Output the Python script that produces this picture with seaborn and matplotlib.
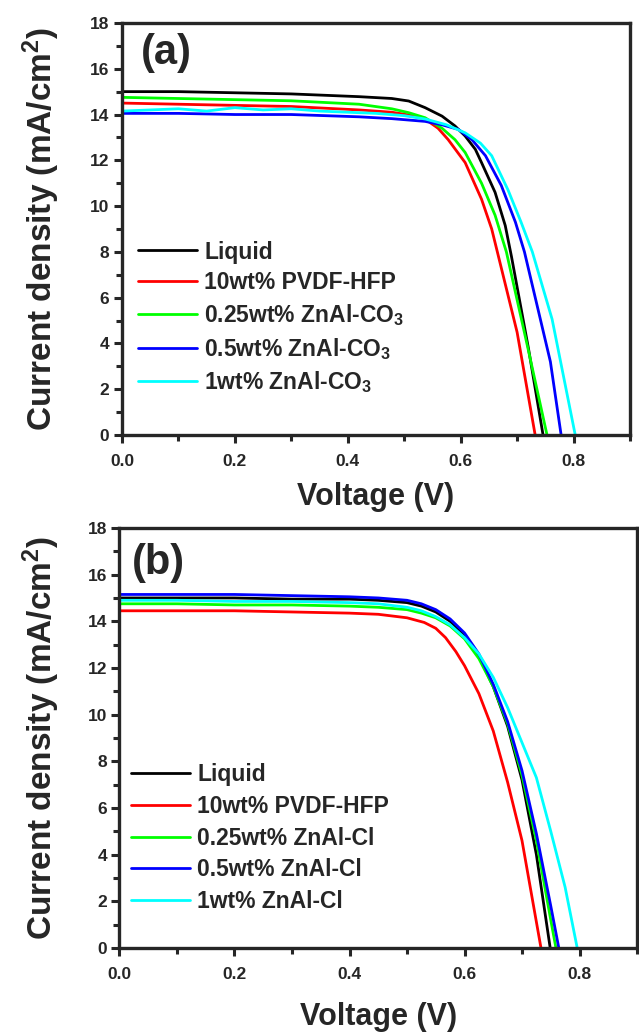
import numpy as np
import pandas as pd
import matplotlib
matplotlib.use("Agg")
import matplotlib.pyplot as plt
from matplotlib.ticker import MultipleLocator
import seaborn as sns

# ---------------- data ----------------
labels_a = ["Liquid", "10wt% PVDF-HFP", r"0.25wt% ZnAl-CO$_3$",
            r"0.5wt% ZnAl-CO$_3$", r"1wt% ZnAl-CO$_3$"]
labels_b = ["Liquid", "10wt% PVDF-HFP", "0.25wt% ZnAl-Cl",
            "0.5wt% ZnAl-Cl", "1wt% ZnAl-Cl"]
colors = ["#000000", "#FF0000", "#00FF00", "#0000FF", "#00FFFF"]

# panel (a)
v_liq_a = [0, 0.1, 0.2, 0.3, 0.42, 0.478, 0.508, 0.537, 0.567, 0.59, 0.608, 0.626, 0.637, 0.661, 0.679, 0.69, 0.72, 0.746]
j_liq_a = [15.0, 15.0, 14.95, 14.9, 14.78, 14.7, 14.59, 14.3, 13.93, 13.5, 13.06, 12.48, 11.9, 10.6, 9.15, 7.8, 3.8, 0]
v_pvdf_a = [0, 0.1, 0.2, 0.3, 0.42, 0.478, 0.508, 0.537, 0.56, 0.578, 0.608, 0.637, 0.655, 0.665, 0.70, 0.732]
j_pvdf_a = [14.5, 14.45, 14.4, 14.35, 14.2, 14.1, 13.98, 13.8, 13.4, 12.9, 11.9, 10.3, 9.0, 8.0, 4.49, 0]
v_025_a = [0, 0.1, 0.2, 0.3, 0.42, 0.478, 0.508, 0.537, 0.567, 0.59, 0.608, 0.637, 0.661, 0.681, 0.72, 0.753]
j_025_a = [14.75, 14.7, 14.65, 14.6, 14.45, 14.25, 14.08, 13.86, 13.4, 12.9, 12.34, 11.0, 9.6, 8.0, 3.7, 0]
v_05_a = [0, 0.1, 0.2, 0.3, 0.42, 0.478, 0.537, 0.567, 0.596, 0.62, 0.644, 0.672, 0.697, 0.713, 0.759, 0.778]
j_05_a = [14.05, 14.05, 14.0, 14.0, 13.9, 13.82, 13.7, 13.55, 13.35, 12.9, 12.2, 10.9, 9.3, 8.0, 3.2, 0]
v_1_a = [0, 0.05, 0.1, 0.15, 0.2, 0.25, 0.3, 0.35, 0.4, 0.45, 0.5, 0.538, 0.575, 0.608, 0.635, 0.655, 0.684, 0.707, 0.727, 0.762, 0.803]
j_1_a = [14.15, 14.2, 14.25, 14.15, 14.3, 14.2, 14.25, 14.15, 14.1, 14.05, 13.95, 13.8, 13.55, 13.2, 12.75, 12.2, 10.7, 9.3, 8.0, 5.06, 0]

# panel (b)
v_liq_b = [0, 0.1, 0.2, 0.3, 0.4, 0.45, 0.5, 0.525, 0.55, 0.575, 0.6, 0.625, 0.65, 0.675, 0.7, 0.725, 0.749]
j_liq_b = [15.0, 15.0, 15.0, 14.95, 14.95, 14.9, 14.8, 14.65, 14.4, 14.0, 13.4, 12.5, 11.2, 9.5, 7.2, 4.0, 0]
v_pvdf_b = [0, 0.1, 0.2, 0.3, 0.4, 0.45, 0.5, 0.53, 0.55, 0.567, 0.585, 0.6, 0.625, 0.65, 0.675, 0.7, 0.733]
j_pvdf_b = [14.45, 14.45, 14.45, 14.4, 14.35, 14.3, 14.15, 13.95, 13.7, 13.3, 12.7, 12.1, 10.9, 9.3, 7.1, 4.6, 0]
v_025_b = [0, 0.1, 0.2, 0.3, 0.4, 0.45, 0.5, 0.525, 0.55, 0.575, 0.6, 0.625, 0.65, 0.675, 0.7, 0.725, 0.75, 0.759]
j_025_b = [14.75, 14.75, 14.7, 14.7, 14.65, 14.6, 14.5, 14.35, 14.15, 13.8, 13.25, 12.4, 11.2, 9.6, 7.4, 4.6, 1.2, 0]
v_05_b = [0, 0.1, 0.2, 0.3, 0.4, 0.45, 0.5, 0.525, 0.55, 0.575, 0.6, 0.625, 0.65, 0.675, 0.7, 0.725, 0.75, 0.764]
j_05_b = [15.15, 15.15, 15.15, 15.1, 15.05, 15.0, 14.9, 14.75, 14.5, 14.1, 13.5, 12.6, 11.3, 9.7, 7.6, 4.9, 1.8, 0]
v_1_b = [0, 0.1, 0.2, 0.3, 0.4, 0.45, 0.5, 0.525, 0.55, 0.575, 0.6, 0.625, 0.65, 0.675, 0.7, 0.725, 0.75, 0.775, 0.796]
j_1_b = [14.9, 14.9, 14.85, 14.85, 14.8, 14.75, 14.6, 14.45, 14.2, 13.85, 13.3, 12.6, 11.6, 10.3, 8.8, 7.3, 5.0, 2.6, 0]

x_ticks = [0.0, 0.2, 0.4, 0.6, 0.8]
y_ticks = [0, 2, 4, 6, 8, 10, 12, 14, 16, 18]

# ---------------- style ----------------
sns.set_style("ticks")
plt.rcParams["font.family"] = ["Liberation Sans", "DejaVu Sans"]
plt.rcParams["font.weight"] = "bold"
plt.rcParams["mathtext.fontset"] = "custom"
plt.rcParams["mathtext.rm"] = "Liberation Sans:bold"
plt.rcParams["mathtext.it"] = "Liberation Sans:bold"
plt.rcParams["mathtext.bf"] = "Liberation Sans:bold"
plt.rcParams["mathtext.default"] = "bf"


def build_df(vs, js, labels):
    frames = []
    for v, j, lab in zip(vs, js, labels):
        frames.append(pd.DataFrame({"V": v, "J": j, "series": lab}))
    return pd.concat(frames, ignore_index=True)


df_a = build_df([v_liq_a, v_pvdf_a, v_025_a, v_05_a, v_1_a],
                [j_liq_a, j_pvdf_a, j_025_a, j_05_a, j_1_a], labels_a)
df_b = build_df([v_liq_b, v_pvdf_b, v_025_b, v_05_b, v_1_b],
                [j_liq_b, j_pvdf_b, j_025_b, j_05_b, j_1_b], labels_b)

fig = plt.figure(figsize=(6.39, 10.34), dpi=100)
ax_a = fig.add_axes([0.1909, 0.5793, 0.795, 0.3985])
ax_b = fig.add_axes([0.187, 0.0832, 0.8099, 0.4062])


def style_panel(ax, df, labels, tag, tag_xy, leg_anchor, xlpad, ylpad, lspace):
    sns.lineplot(data=df, x="V", y="J", hue="series", hue_order=labels,
                 palette=colors, estimator=None, sort=False, lw=2.0, ax=ax)
    ax.set_xlim(0, 0.9)
    ax.set_ylim(0, 18)
    ax.set_xticks(x_ticks)
    ax.set_xticklabels([f"{t:.1f}" for t in x_ticks])
    ax.set_yticks(y_ticks)
    ax.set_yticklabels([str(t) for t in y_ticks])
    ax.xaxis.set_minor_locator(MultipleLocator(0.1))
    ax.yaxis.set_minor_locator(MultipleLocator(1))
    ax.tick_params(which="major", direction="out", length=6, width=2.2,
                   labelsize=12.5)
    ax.tick_params(axis="x", which="major", pad=8)
    ax.tick_params(axis="y", which="major", pad=3)
    ax.tick_params(which="minor", direction="out", length=4, width=2.2)
    for sp in ax.spines.values():
        sp.set_linewidth(2.4)
        sp.set_visible(True)
    for lab in ax.get_xticklabels() + ax.get_yticklabels():
        lab.set_fontweight("bold")
    ax.set_xlabel("Voltage (V)", fontsize=22, fontweight="bold", labelpad=xlpad)
    ax.set_ylabel(r"Current density (mA/cm$^2$)", fontsize=24,
                  fontweight="bold", labelpad=ylpad)
    ax.text(tag_xy[0], tag_xy[1], tag, transform=ax.transAxes, fontsize=30,
            fontweight="bold", ha="left", va="top")
    leg = ax.legend(loc="upper left", bbox_to_anchor=leg_anchor, frameon=False,
                    fontsize=16.5, handlelength=2.6, handletextpad=0.3,
                    labelspacing=lspace, borderpad=0, borderaxespad=0)
    for line in leg.get_lines():
        line.set_linewidth(2.0)
    for t in leg.get_texts():
        t.set_fontweight("bold")


style_panel(ax_a, df_a, labels_a, "(a)", (0.037, 0.975), (0.031, 0.472), 9, 20, 0.34)
style_panel(ax_b, df_b, labels_b, "(b)", (0.024, 0.965), (0.022, 0.44), 14, 18, 0.38)

fig.savefig("out.png", dpi=100, facecolor="white")
